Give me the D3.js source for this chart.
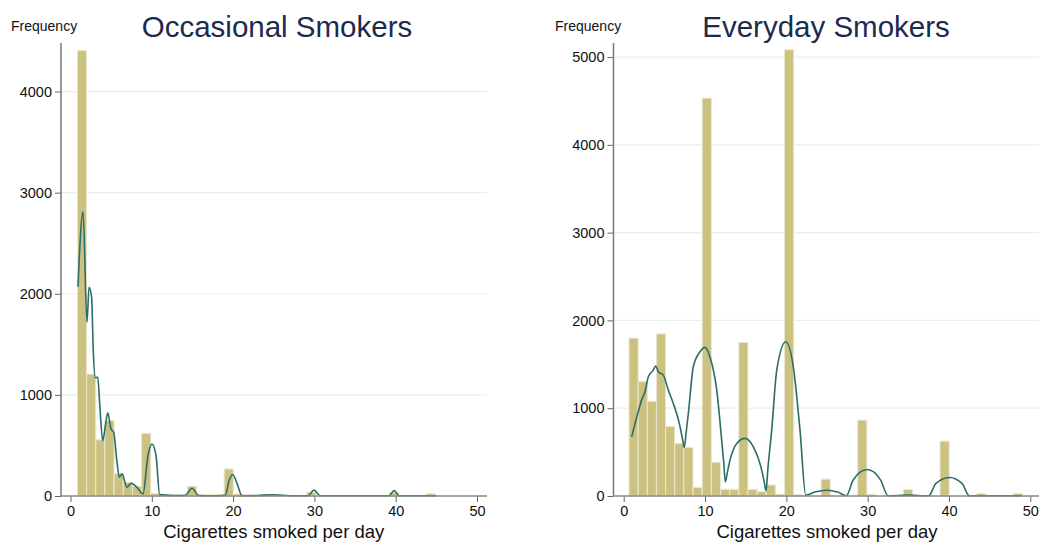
<!DOCTYPE html>
<html>
<head>
<meta charset="utf-8">
<script src="https://cdn.jsdelivr.net/npm/d3@7"></script>
<style>
body { margin: 0; background: #fff; }
text { font-family: "Liberation Sans", Arial, Helvetica, sans-serif; }
</style>
</head>
<body>
<script>
// histogram bins (start, width in cigarettes) and counts per bin
var occStart = 0.85, occWidth = 1.128;
var occCounts = [4405, 1205, 556, 746, 220, 136, 95, 620, 25, 12, 10, 10, 96, 15, 12, 15, 268, 20,
                 15, 0, 12, 12, 0, 0, 0, 37, 0, 0, 0, 0, 0, 0, 0, 0, 37, 0, 0, 0, 22];
var dayStart = 0.65, dayWidth = 1.125;
var dayCounts = [1798, 1302, 1078, 1846, 793, 600, 554, 98, 4532, 384, 76, 76, 1749, 76, 49, 125, 20, 5083,
                 15, 0, 0, 192, 0, 0, 0, 864, 20, 0, 0, 0, 74, 0, 0, 0, 625, 0, 0, 0, 28, 0, 0, 0, 28];

// density curves (scaled to frequency)
var occCurveX = [0.92, 1.54, 2.03, 2.28, 2.6, 2.8, 3.05, 3.35, 3.6, 3.96, 4.3, 4.58, 4.98, 5.31, 5.7, 6.0, 6.33, 6.95,
                 7.44, 8.18, 8.92, 9.53, 10.02, 10.52, 10.97, 12, 13.5, 14.12, 14.94, 15.77, 17, 19.04, 19.5, 19.95,
                 20.5, 21.1, 23, 25, 27, 29.25, 29.95, 30.7, 35, 39.2, 39.8, 40.45, 45];
var occCurveY = [2070, 2813, 1718, 2064, 1965, 1440, 1170, 1175, 900, 548, 700, 822, 664, 630, 350, 185, 219, 86,
                 126, 86, 21, 400, 515, 400, 14, 8, 5, 8, 76, 5, 3, 8, 150, 212,
                 120, 2, 5, 12, 3, 3, 60, 3, 2, 3, 53, 3, 2];
var dayCurveX = [0.98, 1.6, 2.2, 2.62, 3.03, 3.64, 3.93, 4.26, 4.87, 5.49, 6.1, 6.84, 7.25, 7.45, 7.65, 7.95, 8.56, 9.38, 10.0,
                 10.6, 11.44, 12.05, 12.3, 12.5, 12.75, 13.07, 13.9, 14.92, 15.94, 16.97, 17.3, 17.5, 17.75, 18.2, 18.82, 19.93, 20.86, 21.68,
                 22.39, 23.5, 24.97, 26.3, 27.4, 28.2, 29.96, 31.6, 32.5, 34.8, 37.5, 38.4, 40.05, 41.6, 42.5, 48.9];
var dayCurveY = [674, 895, 1092, 1187, 1358, 1434, 1480, 1415, 1377, 1206, 1055, 827, 640, 553, 700, 941, 1472, 1643, 1693,
                 1586, 1206, 636, 380, 161, 270, 408, 599, 656, 560, 294, 150, 58, 330, 750, 1434, 1757, 1472, 750,
                 10, 45, 66, 45, 3, 180, 302, 180, 3, 10, 3, 143, 211, 143, 3, 3];

var xTicks = [0, 10, 20, 30, 40, 50];
var occYTicks = [0, 1000, 2000, 3000, 4000];
var dayYTicks = [0, 1000, 2000, 3000, 4000, 5000];

var svg = d3.select('body').append('svg')
    .attr('width', 1050)
    .attr('height', 553);

function panel(cfg) {
    var x = d3.scaleLinear().domain([0, 50]).range([cfg.x0, cfg.x50]);
    var y = d3.scaleLinear().domain([0, cfg.ymax]).range([496, 43]);
    var g = svg.append('g');

    // grid
    g.selectAll('.grid').data(cfg.yTicks.filter(function (d) { return d > 0; }))
        .enter().append('line')
        .attr('x1', cfg.left).attr('x2', cfg.right)
        .attr('y1', function (d) { return y(d); })
        .attr('y2', function (d) { return y(d); })
        .attr('stroke', '#e6eff1').attr('stroke-width', 1.2);

    var bins = cfg.counts.map(function (c, i) {
        return { x0: cfg.start + i * cfg.width, x1: cfg.start + (i + 1) * cfg.width, n: c };
    }).filter(function (b) { return b.n > 0; });

    g.selectAll('.bar').data(bins)
        .enter().append('rect')
        .attr('x', function (d) { return x(d.x0); })
        .attr('width', function (d) { return x(d.x1) - x(d.x0); })
        .attr('y', function (d) { return y(d.n); })
        .attr('height', function (d) { return y(0) - y(d.n); })
        .attr('fill', '#cbc282')
        .attr('stroke', '#ece8cc')
        .attr('stroke-width', 1);

    var pts = cfg.cx.map(function (v, i) { return [v, cfg.cy[i]]; });
    var line = d3.line()
        .x(function (d) { return x(d[0]); })
        .y(function (d) { return y(d[1]); })
        .curve(d3.curveMonotoneX);
    g.append('path').attr('d', line(pts))
        .attr('fill', 'none')
        .attr('stroke', '#2c6d68')
        .attr('stroke-width', 1.6);

    // axes
    var ya = g.append('g').attr('transform', 'translate(' + cfg.left + ',0)')
        .call(d3.axisLeft(y).tickValues(cfg.yTicks).tickFormat(d3.format('d'))
            .tickSize(6).tickSizeOuter(0).tickPadding(3));
    var xa = g.append('g').attr('transform', 'translate(0,496)')
        .call(d3.axisBottom(x).tickValues(xTicks).tickFormat(d3.format('d'))
            .tickSize(6).tickSizeOuter(0).tickPadding(4));
    [ya, xa].forEach(function (a) {
        a.select('.domain').remove();
        a.selectAll('line').attr('stroke', '#666');
        a.selectAll('text').attr('font-size', '14.5px').attr('fill', '#111')
            .style('font-family', '"Liberation Sans", Arial, sans-serif');
    });
    g.append('line').attr('x1', cfg.left).attr('x2', cfg.left).attr('y1', 43).attr('y2', 496)
        .attr('stroke', '#777').attr('stroke-width', 1.5);
    g.append('line').attr('x1', cfg.left).attr('x2', cfg.right).attr('y1', 496).attr('y2', 496)
        .attr('stroke', '#888').attr('stroke-width', 1.5);

    g.append('text').attr('x', cfg.freqX).attr('y', 31)
        .attr('font-size', '14px').attr('fill', '#111').text('Frequency');
    g.append('text').attr('x', cfg.titleX).attr('y', 37)
        .attr('text-anchor', 'middle').attr('font-size', '29.5px').attr('fill', '#1c2a4f')
        .text(cfg.title);
    g.append('text').attr('x', (cfg.x0 + cfg.x50) / 2).attr('y', 538)
        .attr('text-anchor', 'middle').attr('font-size', '18.5px').attr('fill', '#111')
        .text('Cigarettes smoked per day');
}

panel({ title: 'Occasional Smokers', start: occStart, width: occWidth, counts: occCounts,
        cx: occCurveX, cy: occCurveY, yTicks: occYTicks, ymax: 4480,
        left: 61, right: 487, x0: 70.5, x50: 477, freqX: 11, titleX: 277 });
panel({ title: 'Everyday Smokers', start: dayStart, width: dayWidth, counts: dayCounts,
        cx: dayCurveX, cy: dayCurveY, yTicks: dayYTicks, ymax: 5160,
        left: 613.5, right: 1039, x0: 623.7, x50: 1030.3, freqX: 555, titleX: 826 });
</script>
</body>
</html>
